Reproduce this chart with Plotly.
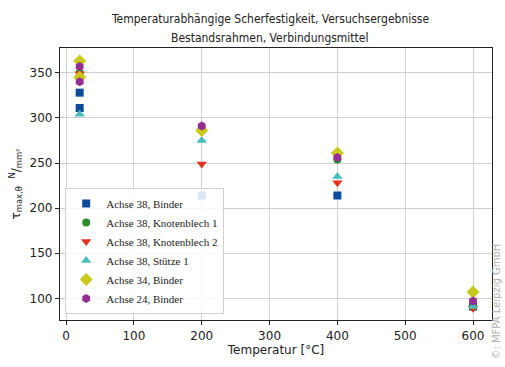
import plotly.graph_objects as go

series_names = [
    "Achse 38, Binder",
    "Achse 38, Knotenblech 1",
    "Achse 38, Knotenblech 2",
    "Achse 38, Stütze 1",
    "Achse 34, Binder",
    "Achse 24, Binder",
]

# values per series: (x list, y list)
a38_binder_x = [20, 20, 200, 400, 600]
a38_binder_y = [328, 311, 214, 214, 91]

a38_kb1_x = [20, 20, 200, 400, 600]
a38_kb1_y = [350, 344, 288, 254, 90]

a38_kb2_x = [20, 200, 400, 600]
a38_kb2_y = [349, 249, 228, 89]

a38_st1_x = [20, 200, 400, 600]
a38_st1_y = [304, 275, 235, 91]

a34_binder_x = [20, 20, 200, 400, 600]
a34_binder_y = [363, 345, 286, 261, 107]

a24_binder_x = [20, 20, 200, 400, 600]
a24_binder_y = [357, 340, 291, 256, 97]

xs = [a38_binder_x, a38_kb1_x, a38_kb2_x, a38_st1_x, a34_binder_x, a24_binder_x]
ys = [a38_binder_y, a38_kb1_y, a38_kb2_y, a38_st1_y, a34_binder_y, a24_binder_y]

title_lines = [
    "Temperaturabhängige Scherfestigkeit, Versuchsergebnisse",
    "Bestandsrahmen, Verbindungsmittel",
]

x_ticks = [0, 100, 200, 300, 400, 500, 600]
y_ticks = [100, 150, 200, 250, 300, 350]

symbols = ["square", "circle", "triangle-down", "triangle-up", "diamond", "hexagon"]
colors = ["#0E4A9A", "#2E8B30", "#E5321F", "#45BDBD", "#C9C91B", "#962C96"]
sizes = [8, 8, 9, 9, 10, 9]

fig = go.Figure()
for name, x, y, s, c, sz in zip(series_names, xs, ys, symbols, colors, sizes):
    fig.add_trace(go.Scatter(
        x=x, y=y, mode="markers", name=name,
        marker=dict(symbol=s, color=c, size=sz, line=dict(width=0)),
    ))

axis_common = dict(
    showgrid=True, gridcolor="#D0D0D0", gridwidth=1,
    showline=True, linecolor="#222222", linewidth=1.2, mirror=True,
    ticks="outside", ticklen=4, tickcolor="#222222",
    zeroline=False,
    tickfont=dict(family="DejaVu Sans", size=12, color="#222222"),
)

fig.update_layout(
    width=505, height=367,
    margin=dict(l=60, r=12, t=48, b=42),
    paper_bgcolor="white", plot_bgcolor="white",
    xaxis=dict(
        range=[-9, 628], tickvals=x_ticks,
        title=dict(text="Temperatur [°C]", standoff=4,
                   font=dict(family="DejaVu Sans", size=12, color="#222222")),
        **axis_common,
    ),
    yaxis=dict(
        range=[76, 377.5], tickvals=y_ticks,
        title=dict(text="τ<sub>max,θ</sub>  <sup>N</sup>/<sub>mm²</sub>", standoff=6,
                   font=dict(family="DejaVu Sans", size=12, color="#222222")),
        **axis_common,
    ),
    legend=dict(
        x=0.012, y=0.022, xanchor="left", yanchor="bottom",
        bgcolor="rgba(255,255,255,0.85)", bordercolor="#D0D0D0", borderwidth=1,
        font=dict(family="Liberation Serif", size=11, color="#222222"),
        tracegroupgap=0,
    ),
    showlegend=True,
)

# two-line title placed as annotations above the plot area
for line, ypos in zip(title_lines, [1.108, 1.036]):
    fig.add_annotation(
        text=line, xref="paper", yref="paper",
        x=0.485, xanchor="center", y=ypos, yanchor="middle",
        showarrow=False,
        font=dict(family="DejaVu Sans Condensed, DejaVu Sans", size=12, color="#222222"),
    )

fig.add_annotation(
    text="©: MFPA Leipzig GmbH", xref="paper", yref="paper",
    x=1.0277, xanchor="right", y=0.29, yanchor="top",
    textangle=-90, showarrow=False,
    font=dict(family="DejaVu Sans", size=10, color="#B0B0B0"),
)

fig.write_html("out.html")
